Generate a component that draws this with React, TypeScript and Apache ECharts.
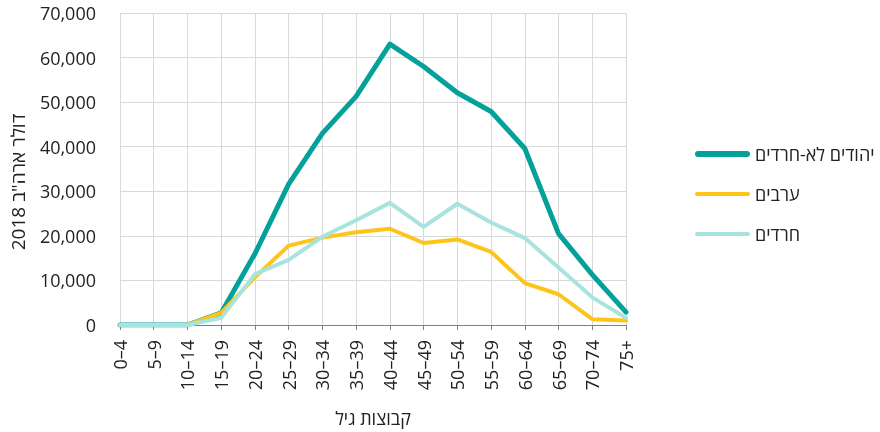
import React, { useEffect, useRef } from "react";
import * as echarts from "echarts";

const categories = ["0–4", "5–9", "10–14", "15–19", "20–24", "25–29", "30–34", "35–39", "40–44", "45–49", "50–54", "55–59", "60–64", "65–69", "70–74", "75+"];
const jewsNonHaredi = [0, 0, 0, 2700, 16000, 31600, 43000, 51300, 63000, 58000, 52100, 47900, 39600, 20500, 11300, 2900];
const arabs = [0, 0, 0, 2700, 10700, 17800, 19600, 20800, 21600, 18400, 19200, 16400, 9400, 6900, 1300, 1000];
const haredim = [0, 0, 0, 1600, 11400, 14600, 19800, 23500, 27400, 22000, 27200, 23000, 19500, 12900, 6200, 1600];
const seriesNames = ["יהודים לא-חרדים", "ערבים", "חרדים"];
const yTicks = { min: 0, max: 70000, interval: 10000 };

const FONT = '"Open Sans", "Noto Sans", "DejaVu Sans", sans-serif';
const COLORS = ["#04a19b", "#fec41a", "#a8e3df"];

export default function App() {
  const ref = useRef<HTMLDivElement>(null);
  useEffect(() => {
    if (!ref.current) return;
    const chart = echarts.init(ref.current, null, { renderer: "svg" });
    chart.setOption({
      animation: false,
      textStyle: { fontFamily: FONT },
      grid: { left: 116, right: 254, top: 13, bottom: 105 },
      legend: {
        orient: "vertical",
        left: 690,
        top: 140,
        itemWidth: 55,
        itemHeight: 14,
        itemGap: 22,
        textStyle: { fontSize: 18, color: "#222", fontFamily: FONT },
        data: [
          { name: seriesNames[0], icon: "path://M3,0 L52,0 A3,3 0 0 1 52,6 L3,6 A3,3 0 0 1 3,0 Z", itemStyle: { color: COLORS[0] } },
          { name: seriesNames[1], icon: "path://M2,0 L53,0 A2,2 0 0 1 53,4 L2,4 A2,2 0 0 1 2,0 Z", itemStyle: { color: COLORS[1] } },
          { name: seriesNames[2], icon: "path://M2,0 L53,0 A2,2 0 0 1 53,4 L2,4 A2,2 0 0 1 2,0 Z", itemStyle: { color: COLORS[2] } },
        ],
      },
      xAxis: {
        type: "category",
        boundaryGap: false,
        data: categories,
        name: "קבוצות גיל",
        nameLocation: "middle",
        nameGap: 84,
        nameTextStyle: { fontSize: 18, color: "#222", fontFamily: FONT },
        axisLine: { lineStyle: { color: "#808080", width: 1 } },
        axisTick: { show: true, length: 5, lineStyle: { color: "#808080" } },
        axisLabel: { rotate: 90, fontSize: 18, color: "#222", margin: 15, interval: 0, fontFamily: FONT },
        splitLine: { show: true, lineStyle: { color: "#d9d9d9", width: 1 } },
      },
      yAxis: {
        type: "value",
        min: yTicks.min,
        max: yTicks.max,
        interval: yTicks.interval,
        name: 'דולר ארה"ב 2018',
        nameLocation: "middle",
        nameGap: 93,
        nameRotate: 90,
        nameTextStyle: { fontSize: 19, color: "#222", fontFamily: FONT, padding: [0, 26, 0, 0] },
        axisLine: { show: false },
        axisTick: { show: false },
        axisLabel: {
          fontSize: 18,
          color: "#222",
          margin: 24,
          fontFamily: FONT,
          formatter: (v: number) => v.toLocaleString("en-US"),
        },
        splitLine: { show: true, lineStyle: { color: "#d9d9d9", width: 1 } },
      },
      series: [
        {
          name: seriesNames[0],
          type: "line",
          data: jewsNonHaredi,
          symbol: "none",
          lineStyle: { color: COLORS[0], width: 5, cap: "round", join: "round" },
          itemStyle: { color: COLORS[0] },
          z: 2,
        },
        {
          name: seriesNames[1],
          type: "line",
          data: arabs,
          symbol: "none",
          lineStyle: { color: COLORS[1], width: 4, cap: "round", join: "round" },
          itemStyle: { color: COLORS[1] },
          z: 3,
        },
        {
          name: seriesNames[2],
          type: "line",
          data: haredim,
          symbol: "none",
          lineStyle: { color: COLORS[2], width: 4, cap: "round", join: "round" },
          itemStyle: { color: COLORS[2] },
          z: 4,
        },
      ],
    });
    return () => chart.dispose();
  }, []);
  return <div ref={ref} style={{ width: 880, height: 432, position: "fixed", left: 0, top: 0 }} />;
}
